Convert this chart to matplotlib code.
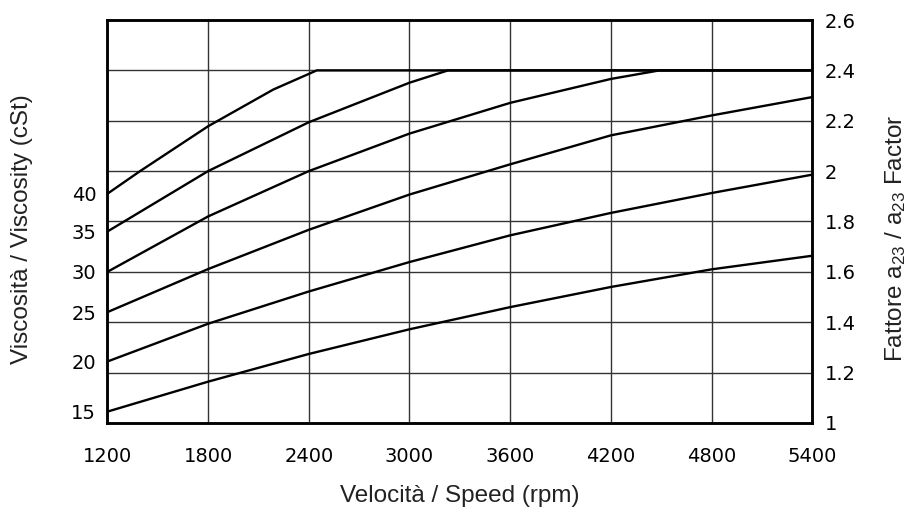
import matplotlib
matplotlib.use('Agg')
import matplotlib.pyplot as plt

# viscosity curves (cSt) -> a23 factor vs speed (rpm)
visc_labels = ['15', '20', '25', '30', '35', '40']
visc_start = [1.045, 1.244, 1.44, 1.60, 1.76, 1.91]

x15 = [1200, 1800, 2400, 3000, 3600, 4200, 4800, 5400]
y15 = [1.045, 1.164, 1.274, 1.372, 1.46, 1.54, 1.61, 1.664]
x20 = [1200, 1800, 2400, 3000, 3600, 4200, 4800, 5400]
y20 = [1.244, 1.394, 1.522, 1.639, 1.745, 1.834, 1.913, 1.986]
x25 = [1200, 1800, 2400, 3000, 3600, 4200, 4800, 5400]
y25 = [1.44, 1.611, 1.767, 1.907, 2.027, 2.142, 2.221, 2.294]
x30 = [1200, 1800, 2400, 3000, 3600, 4200, 4490, 5400]
y30 = [1.60, 1.82, 2.0, 2.149, 2.271, 2.366, 2.4, 2.4]
x35 = [1200, 1800, 2400, 3000, 3230, 5400]
y35 = [1.76, 2.0, 2.194, 2.351, 2.4, 2.4]
x40 = [1200, 1395, 1800, 2189, 2448, 5400]
y40 = [1.91, 2.0, 2.178, 2.324, 2.4, 2.4]

speed_ticks = [1200, 1800, 2400, 3000, 3600, 4200, 4800, 5400]
factor_ticks = [1, 1.2, 1.4, 1.6, 1.8, 2, 2.2, 2.4, 2.6]
factor_labels = ['1', '1.2', '1.4', '1.6', '1.8', '2', '2.2', '2.4', '2.6']

plt.rcParams['font.family'] = ['Liberation Sans', 'DejaVu Sans']
plt.rcParams['mathtext.fontset'] = 'custom'
plt.rcParams['mathtext.rm'] = 'Liberation Sans'
plt.rcParams['mathtext.it'] = 'Liberation Sans'
tick_font = dict(family='DejaVu Sans', fontsize=14)

fig = plt.figure(figsize=(9.12, 5.09), dpi=100)
ax = fig.add_axes([0.1177, 0.169, 0.773, 0.7917])
ax2 = ax.twinx()

for xs, ys in [(x15, y15), (x20, y20), (x25, y25), (x30, y30), (x35, y35), (x40, y40)]:
    ax.plot(xs, ys, color='black', lw=1.7, solid_joinstyle='round', zorder=3)

ax.set_xlim(1200, 5400)
ax.set_ylim(1, 2.6)
ax2.set_ylim(1, 2.6)

ax.set_xticks(speed_ticks)
ax.set_xticklabels(speed_ticks, **tick_font)
ax.tick_params(axis='x', length=0, pad=17)
ax.set_yticks(visc_start)
ax.set_yticklabels(visc_labels, **tick_font)
ax.tick_params(axis='y', length=0, pad=8)

ax2.set_yticks(factor_ticks)
ax2.set_yticklabels(factor_labels, **tick_font)
ax2.tick_params(axis='y', length=0, pad=9)

for s in speed_ticks[1:-1]:
    ax.axvline(s, color='#333333', lw=1.0, zorder=1)
for f in factor_ticks[1:-1]:
    ax.axhline(f, color='#333333', lw=1.0, zorder=1)

for a in (ax, ax2):
    for sp in a.spines.values():
        sp.set_linewidth(1.8)

ax.set_xlabel('Velocità / Speed (rpm)', fontsize=17.5, color='#222222', labelpad=14)
ax.set_ylabel('Viscosità / Viscosity (cSt)', fontsize=17.5, color='#222222')
ax.yaxis.set_label_coords(-0.105, 0.48)
ax2.set_ylabel(r'Fattore a$_{23}$ / a$_{23}$ Factor', fontsize=17.5, color='#222222')
ax2.yaxis.set_label_coords(1.100, 0.459)

fig.savefig('out.png', dpi=100)
